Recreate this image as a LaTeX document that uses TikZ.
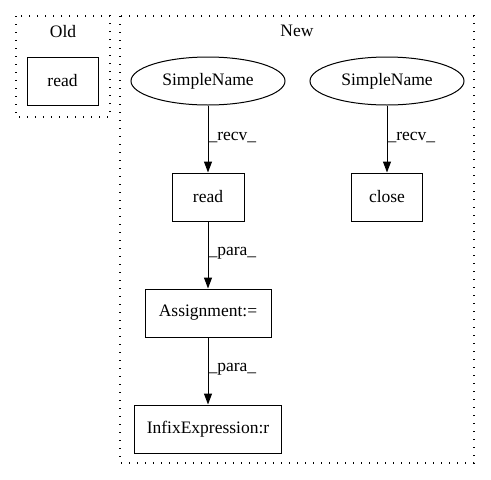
\documentclass[tikz,border=0pt]{standalone}
\usepackage{fontspec}
\setmainfont{Liberation Serif}
\usetikzlibrary{arrows.meta,shapes.geometric}
\begin{document}
\begin{tikzpicture}[x=1pt,y=-1pt,
  every node/.style={font=\fontsize{17.5}{20}\selectfont, inner sep=0pt},
  box/.style={draw, line width=1pt, minimum height=48pt},
  oval/.style={draw, ellipse, line width=1pt, minimum width=154pt, minimum height=48pt},
  cluster/.style={draw, line width=1.2pt, dash pattern=on 1.2pt off 6.8pt},
  edge/.style={draw, line width=1pt, -{Triangle[length=11pt,width=8pt]}},
  elabel/.style={anchor=west}]
  \useasboundingbox (0,0) rectangle (491,480);

  % clusters
  \draw[cluster] (16,16) rectangle (110,117);
  \node (oldlbl) at (63,32) {Old};
  \draw[cluster] (120,16) rectangle (474,463);
  \node (newlbl) at (297,31) {New};

  % Old
  \node[box, minimum width=71pt] (oldread) at (62.5,81) {read};

  % New
  \node[oval] (sn1) at (208,81) {SimpleName};
  \node[oval] (sn2) at (387,81) {SimpleName};
  \node[box, minimum width=72pt] (read) at (208,197) {read};
  \node[box, minimum width=71pt] (close) at (387,197) {close};
  \node[box, minimum width=126pt] (assign) at (208,313) {Assignment:=};
  \node[box, minimum width=147pt] (infix) at (208,429) {InfixExpression:r};

  % edges
  \draw[edge] (sn1) -- (read) node[elabel, pos=0.48] {\_recv\_};
  \draw[edge] (sn2) -- (close) node[elabel, pos=0.48] {\_recv\_};
  \draw[edge] (read) -- (assign) node[elabel, pos=0.48] {\_para\_};
  \draw[edge] (assign) -- (infix) node[elabel, pos=0.48] {\_para\_};
\end{tikzpicture}
\end{document}
